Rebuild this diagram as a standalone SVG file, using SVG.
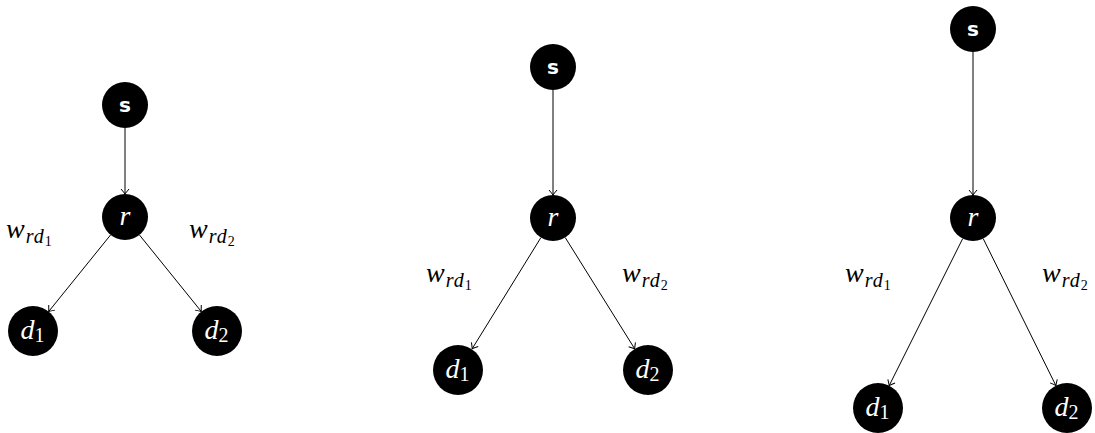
<svg xmlns="http://www.w3.org/2000/svg" width="1095" height="433" viewBox="0 0 1095 433">
  <style>
    .node { fill: #000; }
    .sym { font-family: 'Liberation Serif', 'DejaVu Serif', serif; font-style: italic; font-size: 28px; }
    .lbl { fill: #fff; }
    .sub { font-size: 20px; letter-spacing: 1px; }
    .sub2 { font-size: 14px; }
    .num { font-style: normal; }
    .src { font-family: 'DejaVu Sans', 'Liberation Sans', sans-serif; font-weight: bold; font-size: 20px; fill: #fff; }
    .edge { stroke: #000; stroke-width: 1; fill: none; marker-end: url(#tip); }
  </style>
  <defs>
    <marker id="tip" viewBox="-6 -5 7 10" refX="0" refY="0" markerWidth="7" markerHeight="10" markerUnits="userSpaceOnUse" orient="auto">
      <path d="M -5 -4 Q -1.5 -1 0 0 Q -1.5 1 -5 4" fill="none" stroke="#000" stroke-width="1"/>
    </marker>
  </defs>

  <!-- connectors -->
  <g id="connectors">
    <line class="edge" x1="125" y1="128" x2="125" y2="194"/>
    <line class="edge" x1="110.6" y1="234.9" x2="48.7" y2="311.5"/>
    <line class="edge" x1="139.4" y1="234.9" x2="201.3" y2="311.5"/>

    <line class="edge" x1="553" y1="90" x2="553" y2="195"/>
    <line class="edge" x1="540.9" y1="237.6" x2="472.2" y2="348.7"/>
    <line class="edge" x1="565.2" y1="237.5" x2="634.7" y2="348.8"/>

    <line class="edge" x1="973" y1="52" x2="973" y2="195"/>
    <line class="edge" x1="962.7" y1="238.6" x2="889.2" y2="385.6"/>
    <line class="edge" x1="983.2" y1="238.6" x2="1055.9" y2="385.6"/>
  </g>

  <!-- edge weights -->
  <g id="weights">
    <text class="sym" x="6" y="238">w<tspan class="sub" dx="1" dy="5">rd</tspan><tspan class="sub2 num" dy="3">1</tspan></text>
    <text class="sym" x="189" y="238">w<tspan class="sub" dx="1" dy="5">rd</tspan><tspan class="sub2 num" dy="3">2</tspan></text>

    <text class="sym" x="426" y="282">w<tspan class="sub" dx="1" dy="5">rd</tspan><tspan class="sub2 num" dy="3">1</tspan></text>
    <text class="sym" x="622" y="282">w<tspan class="sub" dx="1" dy="5">rd</tspan><tspan class="sub2 num" dy="3">2</tspan></text>

    <text class="sym" x="845" y="282">w<tspan class="sub" dx="1" dy="5">rd</tspan><tspan class="sub2 num" dy="3">1</tspan></text>
    <text class="sym" x="1042" y="282">w<tspan class="sub" dx="1" dy="5">rd</tspan><tspan class="sub2 num" dy="3">2</tspan></text>
  </g>

  <!-- first tree -->
  <g id="s-a"><circle class="node" cx="125" cy="105" r="23"/><text class="src" x="125" y="112" text-anchor="middle">s</text></g>
  <g id="r-a"><circle class="node" cx="125" cy="217" r="23"/><text class="sym lbl" x="125" y="225" text-anchor="middle">r</text></g>
  <g id="d1-a"><circle class="node" cx="33" cy="331" r="25"/><text class="sym lbl" x="33" y="339" text-anchor="middle">d<tspan class="sub num" dy="3">1</tspan></text></g>
  <g id="d2-a"><circle class="node" cx="217" cy="331" r="25"/><text class="sym lbl" x="217" y="339" text-anchor="middle">d<tspan class="sub num" dy="3">2</tspan></text></g>

  <!-- second tree -->
  <g id="s-b"><circle class="node" cx="553" cy="67" r="23"/><text class="src" x="553" y="74" text-anchor="middle">s</text></g>
  <g id="r-b"><circle class="node" cx="553" cy="218" r="23"/><text class="sym lbl" x="553" y="226" text-anchor="middle">r</text></g>
  <g id="d1-b"><circle class="node" cx="458" cy="370" r="25"/><text class="sym lbl" x="458" y="378" text-anchor="middle">d<tspan class="sub num" dy="3">1</tspan></text></g>
  <g id="d2-b"><circle class="node" cx="648" cy="370" r="25"/><text class="sym lbl" x="648" y="378" text-anchor="middle">d<tspan class="sub num" dy="3">2</tspan></text></g>

  <!-- third tree -->
  <g id="s-c"><circle class="node" cx="973" cy="29" r="23"/><text class="src" x="973" y="36" text-anchor="middle">s</text></g>
  <g id="r-c"><circle class="node" cx="973" cy="218" r="23"/><text class="sym lbl" x="973" y="226" text-anchor="middle">r</text></g>
  <g id="d1-c"><circle class="node" cx="878" cy="408" r="25"/><text class="sym lbl" x="878" y="416" text-anchor="middle">d<tspan class="sub num" dy="3">1</tspan></text></g>
  <g id="d2-c"><circle class="node" cx="1067" cy="408" r="25"/><text class="sym lbl" x="1067" y="416" text-anchor="middle">d<tspan class="sub num" dy="3">2</tspan></text></g>
</svg>
